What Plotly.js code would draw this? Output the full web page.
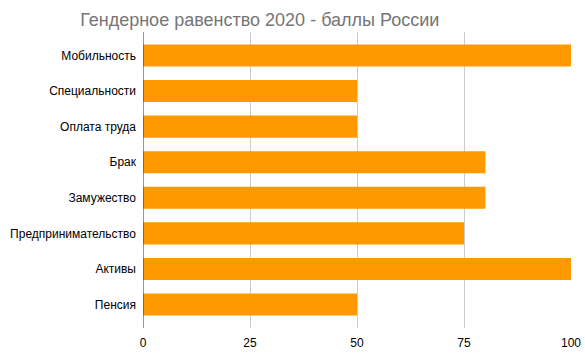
<!DOCTYPE html>
<html><head><meta charset="utf-8">
<script src="https://cdn.plot.ly/plotly-3.0.1.min.js"></script>
<style>html,body{margin:0;padding:0;background:#fff}#c{width:585px;height:354px}</style>
</head><body><div id="c"></div>
<script>
const categories = ["Мобильность","Специальности","Оплата труда","Брак","Замужество","Предпринимательство","Активы","Пенсия"];
const scores = [100,50,50,80,80,75,100,50];
const xTicks = [0,25,50,75,100];

Plotly.newPlot('c', [{
  type:'bar', orientation:'h', x:scores, y:categories,
  marker:{color:'#FF9900'}, width:0.62, hoverinfo:'x+y'
}], {
  width:585, height:354,
  margin:{l:143, r:14, t:32, b:26},
  paper_bgcolor:'#fff', plot_bgcolor:'#fff',
  font:{family:'Liberation Sans, Arial, sans-serif', size:12, color:'#000'},
  title:{text:'Гендерное равенство 2020 - баллы России', font:{size:18, color:'#757575', family:'Liberation Sans, Arial, sans-serif'},
    x:0.444, xanchor:'center', xref:'container', y:0.943, yanchor:'middle', yref:'container'},
  xaxis:{range:[0,100], tickvals:xTicks, ticktext:xTicks.map(String), showgrid:true, gridcolor:'#cccccc', gridwidth:1,
    zeroline:false, showline:false, ticks:'', ticklabelstandoff:6, tickfont:{size:12}, fixedrange:true},
  yaxis:{type:'category', categoryorder:'array', categoryarray:categories, range:[7.66,-0.66], showgrid:false,
    zeroline:false, showline:false, ticks:'', ticklabelstandoff:6, tickfont:{size:12}},
  shapes:[{type:'line', xref:'x', yref:'paper', x0:0, x1:0, y0:0, y1:1, line:{color:'#333', width:1}}],
  showlegend:false, bargap:0.38
}, {displayModeBar:false, staticPlot:true});
</script></body></html>
